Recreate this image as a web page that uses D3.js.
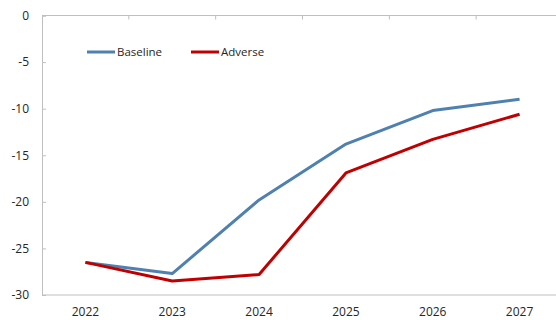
<!DOCTYPE html>
<html><head><meta charset="utf-8">
<script src="https://cdn.jsdelivr.net/npm/d3@7"></script>
<style>body{margin:0;background:#fff}svg{display:block}text{font-family:"Open Sans",sans-serif;fill:#262626}</style>
</head><body><svg id="c" width="556" height="320"></svg>
<script>
const years = ["2022","2023","2024","2025","2026","2027"];
const baseline = [-26.5, -27.7, -19.8, -13.8, -10.2, -9.0];
const adverse = [-26.5, -28.5, -27.8, -16.9, -13.3, -10.6];
const yTicks = [0, -5, -10, -15, -20, -25, -30];
const seriesNames = ["Baseline", "Adverse"];
const colors = ["#4f81b0", "#c00000"];

(function () {
const svg = d3.select("#c");
const pl = 42, pr = 563, pt = 15.5, pb = 295;
const x = d3.scaleBand().domain(years).range([pl, pr]);
const y = d3.scaleLinear().domain([-30, 0]).range([pb, pt]);
const axisCol = "#bfbfbf";

// y axis
const ya = svg.append("g").attr("transform", `translate(${pl},0)`)
  .call(d3.axisLeft(y).tickValues(yTicks).tickSize(-4).tickPadding(13).tickFormat(d => String(d)));
ya.select(".domain").attr("stroke", axisCol);
ya.selectAll(".tick line").attr("stroke", axisCol);
ya.selectAll("text").attr("font-size", 12).attr("font-family", "Open Sans").attr("fill", "#262626");

// top axis at y=0 with boundary ticks
svg.append("line").attr("x1", pl).attr("x2", 556).attr("y1", y(0)).attr("y2", y(0)).attr("stroke", axisCol);
svg.selectAll(".bt").data(years.slice(1)).enter().append("line")
  .attr("x1", d => x(d)).attr("x2", d => x(d)).attr("y1", y(0)).attr("y2", y(0) + 4).attr("stroke", axisCol);

// bottom axis line with labels
svg.append("line").attr("x1", pl).attr("x2", 556).attr("y1", pb).attr("y2", pb).attr("stroke", axisCol);
svg.selectAll(".xl").data(years).enter().append("text")
  .attr("x", d => x(d) + x.bandwidth() / 2).attr("y", 316).attr("text-anchor", "middle")
  .attr("font-size", 12).text(d => d);

// lines
const line = d3.line().x((d, i) => x(years[i]) + x.bandwidth() / 2).y(d => y(d));
[baseline, adverse].forEach((s, k) => {
  svg.append("path").datum(s).attr("d", line).attr("fill", "none")
    .attr("stroke", colors[k]).attr("stroke-width", 3).attr("stroke-linejoin", "round");
});

// legend
const legX = [87, 191];
seriesNames.forEach((n, k) => {
  svg.append("line").attr("x1", legX[k]).attr("x2", legX[k] + 28).attr("y1", 52).attr("y2", 52)
    .attr("stroke", colors[k]).attr("stroke-width", 3);
  svg.append("text").attr("x", legX[k] + 30).attr("y", 56).attr("font-size", 11.5).text(n);
});
})();
</script></body></html>
